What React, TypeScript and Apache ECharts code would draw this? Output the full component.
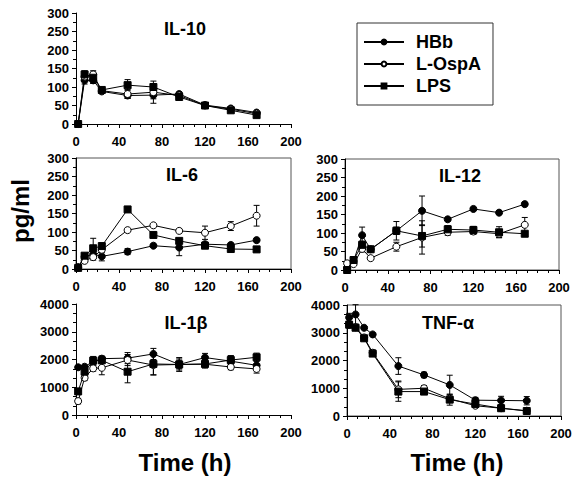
import React, { useEffect, useRef } from "react";
import * as echarts from "echarts";

const times = [2, 8, 16, 24, 48, 72, 96, 120, 144, 168];
const seriesNames = ["HBb", "L-OspA", "LPS"];
const panelTitles = ["IL-10", "IL-6", "IL-12", "IL-1\u03B2", "TNF-\u03B1"];

// IL-10
const il10HBb = [0, 118, 118, 88, 77, 78, 81, 51, 42, 31];
const il10OspA = [0, 128, 134, 90, 81, 86, 77, 50, 40, 28];
const il10LPS = [0, 134, 125, 92, 105, 100, 73, 50, 37, 24];
const il10HBbErr = [0, 10, 8, 5, 8, 10, 5, 3, 3, 3];
const il10OspAErr = [0, 10, 10, 5, 12, 30, 5, 3, 3, 3];
const il10LPSErr = [0, 10, 15, 5, 15, 5, 3, 3, 3, 3];

// IL-6
const il6HBb = [5, 33, 40, 34, 47, 63, 58, 67, 65, 78];
const il6OspA = [3, 22, 32, 52, 105, 118, 103, 98, 116, 144];
const il6LPS = [3, 36, 56, 62, 161, 92, 76, 63, 54, 53];
const il6HBbErr = [2, 5, 8, 12, 8, 5, 22, 5, 5, 5];
const il6OspAErr = [2, 5, 8, 8, 5, 5, 5, 18, 12, 28];
const il6LPSErr = [2, 5, 27, 5, 5, 5, 5, 5, 5, 5];

// IL-12
const il12HBb = [5, 24, 94, 56, 106, 160, 137, 165, 155, 178];
const il12OspA = [18, 16, 57, 32, 63, 88, 102, 104, 98, 122];
const il12LPS = [0, 27, 68, 56, 106, 92, 110, 108, 102, 98];
const il12HBbErr = [3, 5, 22, 5, 25, 40, 5, 5, 5, 5];
const il12OspAErr = [3, 3, 8, 5, 12, 45, 8, 8, 10, 20];
const il12LPSErr = [2, 5, 10, 5, 10, 30, 10, 10, 15, 5];

// IL-1beta
const il1bHBb = [1720, 1740, 1930, 2030, 2050, 2200, 1820, 2070, 1940, 1790];
const il1bOspA = [500, 1340, 1680, 1700, 1980, 1800, 1820, 1830, 1730, 1660];
const il1bLPS = [850, 1560, 1960, 1970, 1560, 1840, 1820, 1840, 1980, 2080];
const il1bHBbErr = [50, 50, 150, 100, 200, 200, 250, 150, 200, 200];
const il1bOspAErr = [100, 100, 100, 250, 200, 350, 200, 100, 100, 150];
const il1bLPSErr = [100, 100, 150, 100, 400, 400, 150, 150, 150, 150];

// TNF-alpha
const tnfHBb = [3550, 3660, 3180, 2940, 1800, 1480, 1120, 570, 560, 550];
const tnfOspA = [3280, 3200, 2830, 2280, 960, 1000, 620, 370, 280, 190];
const tnfLPS = [3290, 3180, 2800, 2250, 880, 880, 590, 430, 280, 180];
const tnfHBbErr = [150, 350, 50, 50, 300, 100, 350, 100, 150, 150];
const tnfOspAErr = [100, 100, 50, 100, 300, 100, 100, 50, 50, 50];
const tnfLPSErr = [100, 100, 50, 100, 350, 100, 200, 50, 50, 50];

const yMaxes = [300, 300, 300, 4000, 4000];
const yIntervals = [50, 50, 50, 1000, 1000];
const xMax = 200;
const xInterval = 40;

const FONT = "'Liberation Sans', Arial, Helvetica, sans-serif";

export default function App() {
  const ref = useRef<HTMLDivElement>(null);

  useEffect(() => {
    if (!ref.current) return;
    const chart = echarts.init(ref.current, null, { renderer: "svg" });

    const panels = [
      { vals: [il10HBb, il10OspA, il10LPS], errs: [il10HBbErr, il10OspAErr, il10LPSErr] },
      { vals: [il6HBb, il6OspA, il6LPS], errs: [il6HBbErr, il6OspAErr, il6LPSErr] },
      { vals: [il12HBb, il12OspA, il12LPS], errs: [il12HBbErr, il12OspAErr, il12LPSErr] },
      { vals: [il1bHBb, il1bOspA, il1bLPS], errs: [il1bHBbErr, il1bOspAErr, il1bLPSErr] },
      { vals: [tnfHBb, tnfOspA, tnfLPS], errs: [tnfHBbErr, tnfOspAErr, tnfLPSErr] },
    ];

    const grids = [
      { left: 76, top: 13, width: 215, height: 111, show: false },
      { left: 76, top: 158, width: 215, height: 111, show: true },
      { left: 345, top: 159, width: 214, height: 111, show: true },
      { left: 76, top: 304, width: 215, height: 111, show: false },
      { left: 347, top: 305, width: 214, height: 111, show: true },
    ].map((g) => ({ ...g, borderColor: "#555", borderWidth: 1, backgroundColor: "transparent" }));

    const labelStyle = {
      color: "#000",
      fontSize: 13,
      fontWeight: "bold" as const,
      fontFamily: FONT,
      formatter: (v: number) => String(v),
    };

    const xAxes = grids.map((_, i) => ({
      type: "value",
      gridIndex: i,
      min: 0,
      max: xMax,
      interval: xInterval,
      axisLine: { show: true, lineStyle: { color: "#000", width: 1 } },
      axisTick: { show: true, length: 4, lineStyle: { color: "#000" } },
      minorTick: { show: true, splitNumber: 4, length: 3, lineStyle: { color: "#000" } },
      splitLine: { show: false },
      axisLabel: { ...labelStyle, margin: 11 },
    }));

    const yAxes = grids.map((_, i) => ({
      type: "value",
      gridIndex: i,
      min: 0,
      max: yMaxes[i],
      interval: yIntervals[i],
      axisLine: { show: true, lineStyle: { color: "#000", width: 1 } },
      axisTick: { show: true, length: 4, lineStyle: { color: "#000" } },
      minorTick: { show: true, splitNumber: i >= 3 ? 3 : 2, length: 3, lineStyle: { color: "#000" } },
      splitLine: { show: false },
      axisLabel: { ...labelStyle, margin: 7 },
    }));

    const markerStyles = [
      { symbol: "circle", itemStyle: { color: "#000", borderColor: "#000", borderWidth: 1 } },
      { symbol: "circle", itemStyle: { color: "#fff", borderColor: "#000", borderWidth: 1 } },
      { symbol: "rect", itemStyle: { color: "#000", borderColor: "#000", borderWidth: 1 } },
    ];

    const series: any[] = [];
    panels.forEach((p, pi) => {
      p.vals.forEach((vals, si) => {
        const errData = times.map((t, k) => [t, vals[k], p.errs[si][k]]);
        series.push({
          type: "custom",
          name: seriesNames[si] + " error",
          xAxisIndex: pi,
          yAxisIndex: pi,
          z: 1,
          clip: false,
          encode: { x: 0, y: 1 },
          data: errData,
          renderItem: (params: any, api: any) => {
            const x = api.value(0);
            const y = api.value(1);
            const e = api.value(2);
            if (!e) return null;
            const top = api.coord([x, y + e]);
            const bot = api.coord([x, Math.max(0, y - e)]);
            const cw = 3;
            const st = { stroke: "#000", lineWidth: 1 };
            return {
              type: "group",
              children: [
                { type: "line", shape: { x1: top[0], y1: top[1], x2: bot[0], y2: bot[1] }, style: st },
                { type: "line", shape: { x1: top[0] - cw, y1: top[1], x2: top[0] + cw, y2: top[1] }, style: st },
                { type: "line", shape: { x1: bot[0] - cw, y1: bot[1], x2: bot[0] + cw, y2: bot[1] }, style: st },
              ],
            };
          },
        });
        series.push({
          type: "line",
          name: seriesNames[si],
          xAxisIndex: pi,
          yAxisIndex: pi,
          z: 3 + si,
          data: times.map((t, k) => [t, vals[k]]),
          symbol: markerStyles[si].symbol,
          symbolSize: 7,
          showSymbol: true,
          lineStyle: { color: "#000", width: 1 },
          itemStyle: markerStyles[si].itemStyle,
          emphasis: { disabled: true },
        });
      });
    });

    const titlePos = [
      [185, 29],
      [182, 175],
      [460, 176],
      [186, 323],
      [448, 323],
    ];

    const graphic: any[] = panelTitles.map((t, i) => ({
      type: "text",
      x: titlePos[i][0],
      y: titlePos[i][1],
      style: {
        text: t,
        fill: "#000",
        fontSize: 18,
        fontWeight: "bold",
        fontFamily: FONT,
        align: "center",
        verticalAlign: "middle",
      },
    }));
    graphic.push(
      {
        type: "text",
        x: 20,
        y: 211,
        rotation: Math.PI / 2,
        style: {
          text: "pg/ml",
          fill: "#000",
          fontSize: 24,
          fontWeight: "bold",
          fontFamily: FONT,
          align: "center",
          verticalAlign: "middle",
        },
      },
      {
        type: "text",
        x: 185,
        y: 462,
        style: {
          text: "Time (h)",
          fill: "#000",
          fontSize: 24,
          fontWeight: "bold",
          fontFamily: FONT,
          align: "center",
          verticalAlign: "middle",
        },
      },
      {
        type: "text",
        x: 457,
        y: 462,
        style: {
          text: "Time (h)",
          fill: "#000",
          fontSize: 24,
          fontWeight: "bold",
          fontFamily: FONT,
          align: "center",
          verticalAlign: "middle",
        },
      }
    );

    chart.setOption({
      animation: false,
      backgroundColor: "#fff",
      grid: grids,
      xAxis: xAxes,
      yAxis: yAxes,
      series,
      graphic,
      legend: {
        data: seriesNames,
        orient: "vertical",
        left: 357,
        top: 23,
        itemWidth: 40,
        itemHeight: 6,
        itemGap: 4,
        padding: [10, 12, 10, 6],
        borderColor: "#333",
        borderWidth: 1,
        selectedMode: false,
        textStyle: {
          color: "#000",
          fontSize: 18,
          fontWeight: "bold",
          fontFamily: FONT,
          padding: [0, 0, 0, 7],
        },
      },
    });

    return () => {
      chart.dispose();
    };
  }, []);

  return (
    <div
      ref={ref}
      style={{ position: "absolute", left: 0, top: 0, width: 577, height: 480 }}
    />
  );
}
